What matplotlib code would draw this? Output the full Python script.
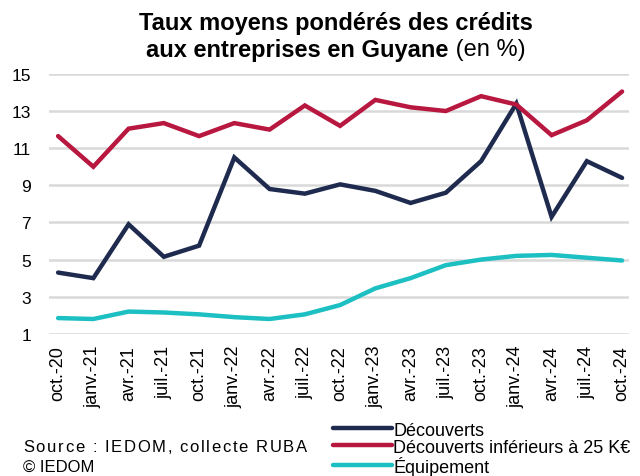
import matplotlib
matplotlib.use("Agg")
import matplotlib.pyplot as plt

plt.rcParams['font.family'] = ['Liberation Sans', 'DejaVu Sans']

dates = ["oct.-20", "janv.-21", "avr.-21", "juil.-21", "oct.-21", "janv.-22", "avr.-22",
         "juil.-22", "oct.-22", "janv.-23", "avr.-23", "juil.-23", "oct.-23", "janv.-24",
         "avr.-24", "juil.-24", "oct.-24"]
decouverts = [4.3, 4.0, 6.9, 5.15, 5.75, 10.5, 8.8, 8.55, 9.05, 8.7, 8.05, 8.6, 10.3, 13.4,
              7.3, 10.3, 9.4]
decouverts_25k = [11.65, 10.0, 12.05, 12.35, 11.65, 12.35, 12.0, 13.3, 12.2, 13.6, 13.2, 13.0,
                  13.8, 13.35, 11.7, 12.5, 14.05]
equipement = [1.85, 1.8, 2.2, 2.15, 2.05, 1.9, 1.8, 2.05, 2.55, 3.45, 4.0, 4.7, 5.0, 5.2,
              5.25, 5.1, 4.95]
series_names = ["Découverts", "Découverts inférieurs à 25 K€", "Équipement"]
yticks = [1, 3, 5, 7, 9, 11, 13, 15]

colors = ["#1f2a4f", "#b8173f", "#1cbfc2"]

fig = plt.figure(figsize=(6.4, 4.77), dpi=100)
ax = fig.add_axes([0.077, 0.298, 0.906, 0.545])

x = list(range(len(dates)))
lines = []
for vals, c, n in zip([decouverts, decouverts_25k, equipement], colors, series_names):
    l, = ax.plot(x, vals, color=c, lw=3.2, solid_joinstyle='miter', solid_capstyle='round', label=n)
    lines.append(l)

ax.set_ylim(1, 15)
ax.set_xlim(-0.25, len(dates) - 1 + 0.2)
ax.set_yticks(yticks)
ax.set_yticklabels([str(v) for v in yticks], fontsize=12.5)
ax.set_xticks(x)
ax.set_xticklabels(dates, rotation=90, fontsize=13)
ax.yaxis.grid(True, color="#d9d9d9", lw=1.8)
ax.set_axisbelow(True)
for s in ax.spines.values():
    s.set_visible(False)
ax.tick_params(length=0)
ax.tick_params(axis='y', pad=13)
ax.tick_params(axis='x', pad=8)

fig.canvas.draw()
r = fig.canvas.get_renderer()
W = fig.bbox.width

# Title
fig.text(0.525, 0.950, "Taux moyens pondérés des crédits", ha='center', va='center',
         fontsize=17, fontweight='bold')
t1 = fig.text(0, 0.895, "aux entreprises en Guyane", ha='left', va='center', fontsize=17,
              fontweight='bold')
t2 = fig.text(0, 0.895, " (en %)", ha='left', va='center', fontsize=17)
w1 = t1.get_window_extent(r).width
w2 = t2.get_window_extent(r).width
start = 0.525 * W - (w1 + w2) / 2
t1.set_x(start / W)
t2.set_x((start + w1) / W)

# Legend
leg = fig.legend(handles=lines, loc='upper left', bbox_to_anchor=(0.52, 0.114), frameon=False,
                 fontsize=13, handlelength=3.3, handletextpad=0.05, labelspacing=0.0,
                 borderaxespad=0, borderpad=0)


def spaced_text(s, x0_px, x1_px, y, size):
    """Draw text with letter spacing to fill [x0_px, x1_px]."""
    arts = []
    widths = []
    for ch in s:
        t = fig.text(0, y, ch, fontsize=size, va='center', ha='left')
        arts.append(t)
        widths.append(t.get_window_extent(r).width if ch != ' ' else None)
    sp = fig.text(0, 0, "a a", fontsize=size)
    sp2 = fig.text(0, 0, "aa", fontsize=size)
    space_w = sp.get_window_extent(r).width - sp2.get_window_extent(r).width
    sp.remove(); sp2.remove()
    widths = [w if w is not None else space_w for w in widths]
    total = sum(widths)
    gap = (x1_px - x0_px - total) / max(len(s) - 1, 1)
    xp = x0_px
    for t, w in zip(arts, widths):
        t.set_x(xp / W)
        xp += w + gap


spaced_text("Source : IEDOM, collecte RUBA", 23, 307, 1 - 448 / 477, 12)
fig.text(23 / W, 1 - 467 / 477, "© IEDOM", fontsize=12, va='center')

fig.savefig("out.png", dpi=100)
